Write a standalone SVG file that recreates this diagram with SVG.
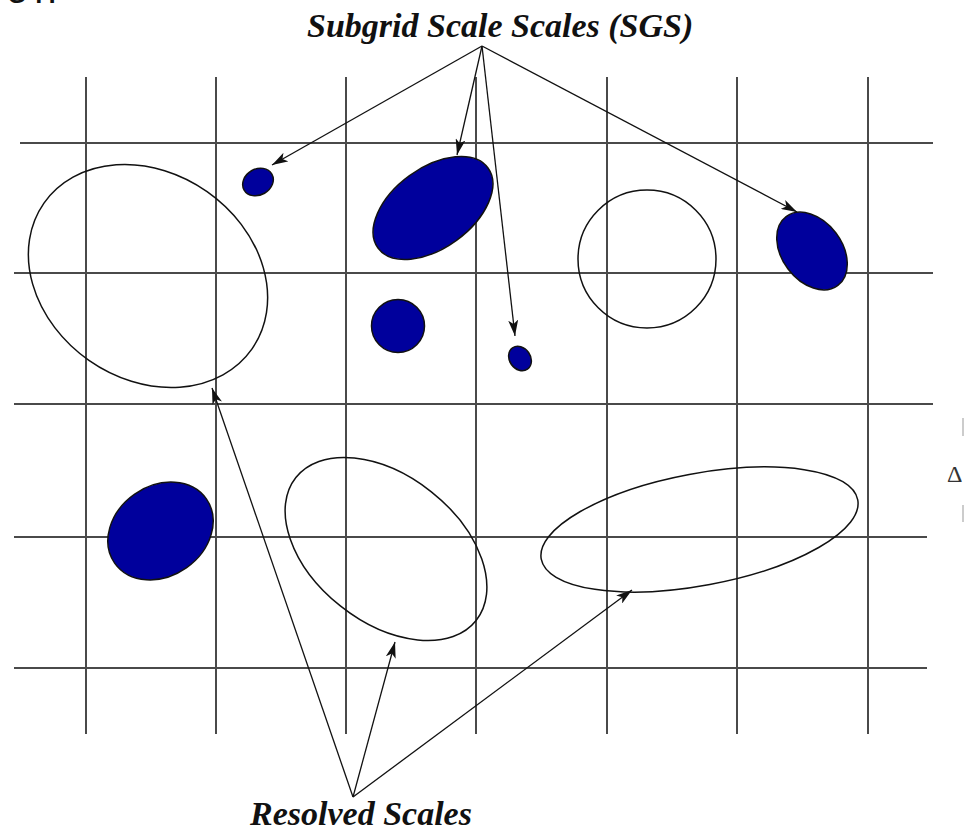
<svg xmlns="http://www.w3.org/2000/svg" width="965" height="826" viewBox="0 0 965 826">
<defs>
<style>
.grid{stroke:#4a4a4a;stroke-width:2;fill:none}
.open{fill:none;stroke:#111;stroke-width:1.5}
.blue{fill:#00009c;stroke:#111;stroke-width:1.5}
.arr{stroke:#111;stroke-width:1.3;fill:none;marker-end:url(#ah)}
.lbl{font-family:"Liberation Serif","Times New Roman",serif;font-weight:bold;font-style:italic;font-size:34px;fill:#111}
</style>
<marker id="ah" viewBox="0 0 16 10" refX="16" refY="5" markerWidth="16" markerHeight="10" markerUnits="userSpaceOnUse" orient="auto">
<path d="M0,0 L16,5 L0,10 L4,5 z" fill="#111"/>
</marker>
</defs>
<rect width="965" height="826" fill="#fff"/>
<text x="6" y="3" font-family="Liberation Sans,Arial,sans-serif" font-size="40" letter-spacing="6" fill="#111">on</text>
<g id="grid">
<line class="grid" x1="86" y1="77" x2="86" y2="734"/>
<line class="grid" x1="216" y1="77" x2="216" y2="734"/>
<line class="grid" x1="346" y1="77" x2="346" y2="734"/>
<line class="grid" x1="476" y1="77" x2="476" y2="734"/>
<line class="grid" x1="607" y1="77" x2="607" y2="734"/>
<line class="grid" x1="737" y1="77" x2="737" y2="734"/>
<line class="grid" x1="868" y1="77" x2="868" y2="734"/>
<line class="grid" x1="20" y1="143" x2="933" y2="143"/>
<line class="grid" x1="14" y1="273" x2="933" y2="273"/>
<line class="grid" x1="14" y1="404" x2="933" y2="404"/>
<line class="grid" x1="14" y1="537" x2="927" y2="537"/>
<line class="grid" x1="14" y1="668" x2="927" y2="668"/>
</g>
<g id="resolved-left"><ellipse class="open" cx="148" cy="276" rx="127" ry="103" transform="rotate(35 148 276)"/></g>
<g id="sgs-small-top"><ellipse class="blue" cx="258" cy="182" rx="16" ry="13" transform="rotate(-30 258 182)"/></g>
<g id="sgs-large"><ellipse class="blue" cx="433" cy="208" rx="68" ry="40" transform="rotate(-36 433 208)"/></g>
<g id="resolved-circle"><ellipse class="open" cx="647" cy="259" rx="69" ry="69"/></g>
<g id="sgs-right"><ellipse class="blue" cx="812" cy="251" rx="43" ry="30" transform="rotate(53 812 251)"/></g>
<g id="sgs-circle"><circle class="blue" cx="398" cy="326" r="26.5"/></g>
<g id="sgs-tiny"><ellipse class="blue" cx="520" cy="358.5" rx="13" ry="10.5" transform="rotate(55 520 358.5)"/></g>
<g id="sgs-bottom-left"><ellipse class="blue" cx="160.5" cy="531" rx="56" ry="45" transform="rotate(-35 160.5 531)"/></g>
<g id="resolved-middle"><ellipse class="open" cx="386" cy="549" rx="115" ry="73" transform="rotate(38.4 386 549)"/></g>
<g id="resolved-right"><ellipse class="open" cx="699.5" cy="529.5" rx="161" ry="56" transform="rotate(-10.6 699.5 529.5)"/></g>
<g id="connectors">
<line class="arr" x1="482" y1="46" x2="272" y2="165"/>
<line class="arr" x1="482" y1="46" x2="457" y2="155"/>
<line class="arr" x1="482" y1="46" x2="515" y2="336"/>
<line class="arr" x1="482" y1="46" x2="797" y2="212"/>
<line class="arr" x1="353" y1="797" x2="212" y2="388"/>
<line class="arr" x1="353" y1="797" x2="395" y2="642"/>
<line class="arr" x1="353" y1="797" x2="632" y2="590"/>
</g>
<g id="label-sgs"><text class="lbl" x="307" y="37">Subgrid Scale Scales (SGS)</text></g>
<g id="label-resolved"><text class="lbl" x="250" y="825">Resolved Scales</text></g>
<g id="delta">
<text x="947" y="482" font-family="Liberation Serif,serif" font-size="24" fill="#333">Δ</text>
<line x1="963" y1="418" x2="963" y2="436" stroke="#bbb" stroke-width="1.5"/>
<line x1="963" y1="505" x2="963" y2="522" stroke="#bbb" stroke-width="1.5"/>
</g>
</svg>
